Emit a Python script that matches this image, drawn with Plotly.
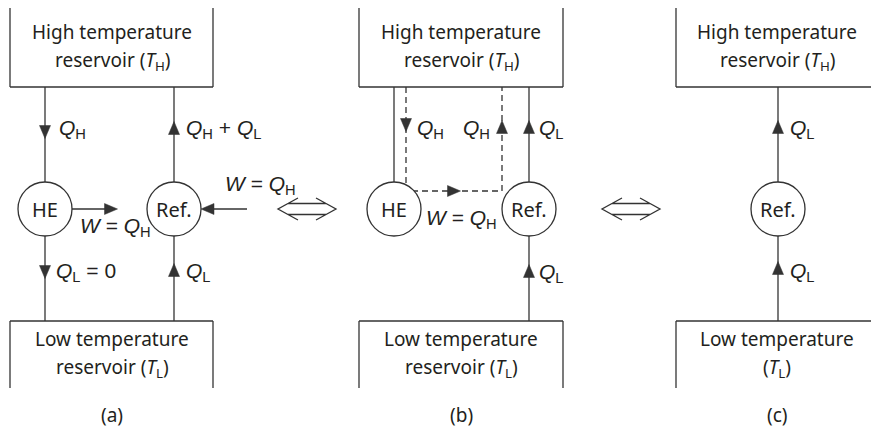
import plotly.graph_objects as go

# ---------------- content (text) ----------------
panel_captions = ["(a)", "(b)", "(c)"]
high_reservoir_text = [
    ["High temperature", "reservoir (<i>T</i><sub>H</sub>)"],
    ["High temperature", "reservoir (<i>T</i><sub>H</sub>)"],
    ["High temperature", "reservoir (<i>T</i><sub>H</sub>)"],
]
low_reservoir_text = [
    ["Low temperature", "reservoir (<i>T</i><sub>L</sub>)"],
    ["Low temperature", "reservoir (<i>T</i><sub>L</sub>)"],
    ["Low temperature", "(<i>T</i><sub>L</sub>)"],
]
device_names = ["HE", "Ref.", "HE", "Ref.", "Ref."]
flow_texts = [
    "<i>Q</i><sub>H</sub>",
    "<i>Q</i><sub>H</sub> + <i>Q</i><sub>L</sub>",
    "<i>W</i> = <i>Q</i><sub>H</sub>",
    "<i>W</i> = <i>Q</i><sub>H</sub>",
    "<i>Q</i><sub>L</sub> = 0",
    "<i>Q</i><sub>L</sub>",
    "<i>Q</i><sub>H</sub>",
    "<i>Q</i><sub>H</sub>",
    "<i>Q</i><sub>L</sub>",
    "<i>W</i> = <i>Q</i><sub>H</sub>",
    "<i>Q</i><sub>L</sub>",
    "<i>Q</i><sub>L</sub>",
    "<i>Q</i><sub>L</sub>",
]

# ---------------- geometry (layout of the diagram) ----------------
W, H = 871, 429
LC = "#333333"
LW = 1.3
FONT = "Noto Sans, Liberation Sans, Arial, sans-serif"
FONT_FLOW = "Liberation Sans, Arial, Helvetica, sans-serif"
FS = 19
FS_DEV = 20
FS_FLOW = 21
TC = "#231f20"

box_x = [(10, 213), (359, 563), (676, 871)]
box_has_right = [True, True, False]
box_center = [112, 461, 777]
HI_TOP, HI_BOT = 8, 87
LO_TOP, LO_BOT = 321, 388
CY, R = 209, 27
dev_x = [45, 174, 394, 529, 778]
flow_pos = [
    (57, 129), (184, 129), (78, 227), (223, 185), (54, 272), (184, 272),
    (415, 129), (461, 129), (537, 129), (424, 219), (537, 273),
    (788, 129), (788, 272),
]
double_arrows = [(278, 336), (602, 660)]

shapes = []
annotations = []


def line(x0, y0, x1, y1, dash="solid"):
    shapes.append(dict(type="line", xref="x", yref="y", x0=x0, y0=y0, x1=x1, y1=y1,
                       line=dict(color=LC, width=LW, dash=dash), layer="above"))


def path(d, fill=None):
    shapes.append(dict(type="path", xref="x", yref="y", path=d,
                       fillcolor=fill if fill else "rgba(0,0,0,0)",
                       line=dict(color=LC, width=LW if not fill else 0.5), layer="above"))


def tri(x, y, d, w=11, h=13):
    if d == "down":
        pts = [(x - w / 2, y - h / 2), (x + w / 2, y - h / 2), (x, y + h / 2)]
    elif d == "up":
        pts = [(x - w / 2, y + h / 2), (x + w / 2, y + h / 2), (x, y - h / 2)]
    elif d == "right":
        pts = [(x - h / 2, y - w / 2), (x - h / 2, y + w / 2), (x + h / 2, y)]
    else:
        pts = [(x + h / 2, y - w / 2), (x + h / 2, y + w / 2), (x - h / 2, y)]
    d = "M " + " L ".join(f"{a},{b}" for a, b in pts) + " Z"
    path(d, fill=LC)


def text(x, y, s, anchor="center", size=FS, family=FONT):
    annotations.append(dict(x=x, y=y, xref="x", yref="y", text=s, showarrow=False,
                            xanchor=anchor, yanchor="middle",
                            font=dict(family=family, size=size, color=TC)))


# reservoirs
for i, (x0, x1) in enumerate(box_x):
    line(x0, HI_TOP, x0, HI_BOT)
    line(x0, HI_BOT, x1, HI_BOT)
    line(x0, LO_TOP, x1, LO_TOP)
    line(x0, LO_TOP, x0, LO_BOT)
    if box_has_right[i]:
        line(x1, HI_TOP, x1, HI_BOT)
        line(x1, LO_TOP, x1, LO_BOT)
    text(box_center[i], 32, high_reservoir_text[i][0])
    text(box_center[i], 61, high_reservoir_text[i][1])
    text(box_center[i], 339, low_reservoir_text[i][0])
    text(box_center[i], 368, low_reservoir_text[i][1])
    text(box_center[i], 415, panel_captions[i])

# vertical connections (solid)
for k, x in enumerate(dev_x):
    line(x, HI_BOT, x, CY - R)
    if k != 2:
        line(x, CY + R, x, LO_TOP)

# dashed loop in (b)
shapes.append(dict(type="path", xref="x", yref="y",
                   path="M 406,87 L 406,191 L 502,191 L 502,87",
                   line=dict(color=LC, width=LW, dash="6px,4px"), layer="above"))

# work arrows in (a)
line(45 + R, CY, 111, CY)
line(213, CY, 247, CY)

# device circles
for k, x in enumerate(dev_x):
    shapes.append(dict(type="circle", xref="x", yref="y", x0=x - R, x1=x + R,
                       y0=CY - R, y1=CY + R, fillcolor="white",
                       line=dict(color=LC, width=LW), layer="above"))
    text(x, CY, device_names[k], size=FS_DEV)

# arrowheads
tri(45, 132, "down")
tri(174, 128, "up")
tri(111, CY, "right")
tri(207.5, CY, "left")
tri(45, 272, "down")
tri(174, 270, "up")
tri(406, 125, "down")
tri(502, 127, "up")
tri(529, 127, "up")
tri(454, 191, "right")
tri(529, 271, "up")
tri(778, 127, "up")
tri(778, 268, "up")

# flow labels
for s, (x, y) in zip(flow_texts, flow_pos):
    text(x, y, s, anchor="left", size=FS_FLOW, family=FONT_FLOW)

# equivalence double arrows
for x0, x1 in double_arrows:
    y = CY
    d = (f"M {x0+20},{y-11} L {x0},{y} L {x0+20},{y+11} "
         f"M {x0+10},{y-5.5} L {x1-10},{y-5.5} "
         f"M {x0+10},{y+5.5} L {x1-10},{y+5.5} "
         f"M {x1-20},{y-11} L {x1},{y} L {x1-20},{y+11}")
    path(d)

fig = go.Figure()
fig.add_trace(go.Scatter(x=[0, W], y=[0, H], mode="markers",
                         marker=dict(opacity=0), hoverinfo="skip", showlegend=False))
fig.update_layout(
    width=W, height=H,
    margin=dict(l=0, r=0, t=0, b=0),
    paper_bgcolor="white", plot_bgcolor="white",
    xaxis=dict(range=[0, W], visible=False, fixedrange=True),
    yaxis=dict(range=[H, 0], visible=False, fixedrange=True),
    shapes=shapes, annotations=annotations, showlegend=False,
)
fig.write_html(
    "out.html",
    config={"displayModeBar": False},
    post_script="document.body.style.margin='0px';document.body.style.overflow='hidden';",
)
